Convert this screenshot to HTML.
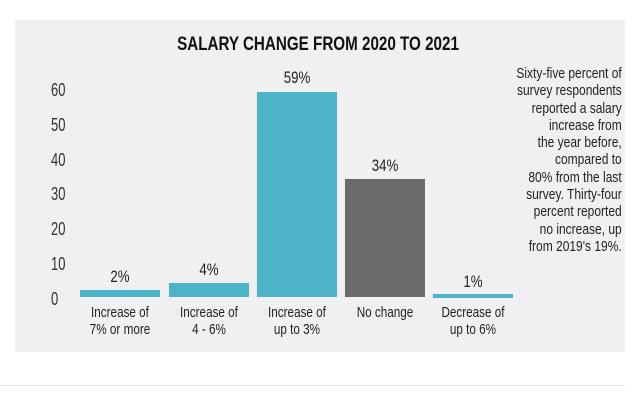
<!DOCTYPE html>
<html><head><style>
body{margin:0;width:640px;height:400px;background:#fff;position:relative;overflow:hidden;font-family:"Liberation Sans",sans-serif;}
.panel{position:absolute;left:15px;top:20px;width:610px;height:332px;background:#f0f0f2;}
.t{position:absolute;white-space:nowrap;color:#222;}
.c{transform:translateX(-50%) scaleX(0.78);transform-origin:center;}
.bar{position:absolute;}
</style></head><body>
<div class="panel"></div>
<div style="position:absolute;left:0;top:385px;width:625px;height:1px;background:#e4e4e6"></div>
<div class="t" style="left:318px;top:34px;font-size:19px;font-weight:bold;transform:translateX(-50%) scaleX(0.8);color:#111">SALARY CHANGE FROM 2020 TO 2021</div>
<div class="t" style="left:51px;top:73px;font-size:18px;line-height:34.8px;transform:scaleX(0.72);transform-origin:left;color:#333">60<br>50<br>40<br>30<br>20<br>10<br>0</div>
<div class="bar" style="left:80px;top:290px;width:80px;height:7px;background:#4db3c8"></div>
<div class="bar" style="left:169px;top:283px;width:80px;height:14px;background:#4db3c8"></div>
<div class="bar" style="left:257px;top:92px;width:80px;height:205px;background:#4db3c8"></div>
<div class="bar" style="left:345px;top:179px;width:80px;height:118px;background:#6b6b6d"></div>
<div class="bar" style="left:433px;top:294px;width:80px;height:4px;background:#4db3c8"></div>
<div class="t c" style="left:120px;top:267px;font-size:17px">2%</div>
<div class="t c" style="left:209px;top:260px;font-size:17px">4%</div>
<div class="t c" style="left:297px;top:68px;font-size:17px">59%</div>
<div class="t c" style="left:385px;top:156px;font-size:17px">34%</div>
<div class="t c" style="left:473px;top:272px;font-size:17px">1%</div>
<div class="t c" style="left:120px;top:304px;font-size:15px;line-height:17px;text-align:center">Increase of<br>7% or more</div>
<div class="t c" style="left:209px;top:304px;font-size:15px;line-height:17px;text-align:center">Increase of<br>4 - 6%</div>
<div class="t c" style="left:297px;top:304px;font-size:15px;line-height:17px;text-align:center">Increase of<br>up to 3%</div>
<div class="t c" style="left:385px;top:304px;font-size:15px;line-height:17px;text-align:center">No change</div>
<div class="t c" style="left:473px;top:304px;font-size:15px;line-height:17px;text-align:center">Decrease of<br>up to 6%</div>
<div class="t" style="right:18px;top:65px;font-size:15px;line-height:17.3px;text-align:right;transform:scaleX(0.8);transform-origin:right;color:#222">Sixty-five percent of<br>survey respondents<br>reported a salary<br>increase from<br>the year before,<br>compared to<br>80% from the last<br>survey. Thirty-four<br>percent reported<br>no increase, up<br>from 2019's 19%.</div>
</body></html>
